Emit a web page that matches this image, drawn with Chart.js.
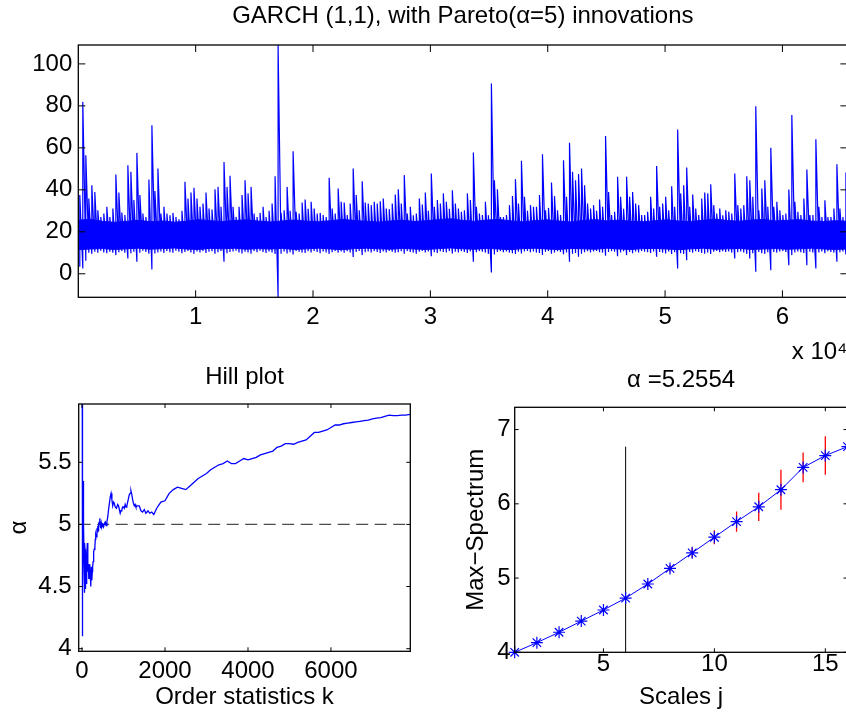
<!DOCTYPE html>
<html><head><meta charset="utf-8">
<script src="https://cdn.jsdelivr.net/npm/chart.js@4"></script>
<style>
html,body{margin:0;padding:0;background:#fff;overflow:hidden;width:846px;height:712px;}
canvas{position:absolute;left:0;top:0;}
</style></head><body>
<canvas id="c1" width="900" height="380"></canvas>
<canvas id="c2" width="900" height="712"></canvas>
<canvas id="c3" width="900" height="712"></canvas>
<script>
// ---------- Top panel: GARCH(1,1) series, per-bin (256 samples) max / min ----------
const garchBinSize = 256;
const garchHi = [
37.5,81.9,56.5,35.9,42.2,39,30.3,27,28.7,31.9,27,31.1,47.3,38.7,29.2,28,
51.7,48.6,35.1,57.6,37.5,28.7,27,44.9,70.8,39.4,50.2,28.7,31.9,28.7,27.9,29,
27,26,30,43.8,35.9,38.7,41,35.9,31.9,33.5,38.7,31.1,30.6,40.3,41.4,31.9,
53.3,41.4,46.7,31.9,27.1,31.9,37.5,44.6,38.3,41.4,28.7,27,29,31.9,27,30,
33.5,46.5,109,29,30.3,41.4,30,58.4,29.5,28.7,34,35.4,31,34.3,31.1,28.7,
29,28,27,45.7,31.1,28.7,40.6,34.3,34,28,33.5,50.2,37.5,30.3,44.1,34,
33.5,32.7,34.3,33.5,34.6,35.9,31.1,30.8,33.5,37.8,40.3,33.5,47,28.7,31.9,27.9,
28.7,35.9,33,38.7,30,47.8,31.9,35.1,33.5,38.3,34.3,31,39.8,33.5,31.1,29.5,
30.3,38.3,35.1,57.8,31.9,28.7,28,34.3,27.9,90.6,44.6,40.3,27,27,28,32.7,
37.1,45.1,33.5,53.8,36.7,30,32.7,31.9,31.9,37.5,57,30.3,31.4,43.5,37,30.3,
28,54.1,36.7,62.4,48.6,44.6,47.5,50.2,42.2,33.5,31.1,32.7,30,35.4,31.9,65.6,
39,28,29.5,46.2,36.7,31,46.2,36.7,39,33.5,32.7,28,28,29.5,36.7,31.1,
51.4,31.9,33.5,36.7,30.3,41.7,31.9,68.7,38.3,42.2,50.6,31.9,37.8,31.1,28,35.9,
38.7,38.3,42.7,32.7,28.7,31.1,27.9,30.3,29.5,28.7,47.8,32.7,31.1,32.7,46.5,44.6,
36.7,79.8,30.3,40.6,44.6,31.9,60,31.9,34.3,30.3,28,28.7,40.2,75.6,34.3,29.5,
28,35.9,49.7,28,28,64.1,31.9,27,35,27,27,31.1,52.2,31.1,27,48.3];
const garchLo = [
3.3,2.5,6.2,10,9.5,10.5,10,11,10.2,9.8,10.5,10,8.9,10.3,10.8,10,
7.3,9.8,10.5,5.7,10,11,10.4,9.6,2.1,9.7,10.2,10.6,9.9,10.8,10.3,10,
11,10.5,9.8,10.4,10.9,10.1,9.5,10.6,10.2,10.8,9.9,10.5,10.7,9.6,10.3,10.9,
5.7,9.8,10.4,10.6,11,10.2,9.7,10.5,10.1,9.6,10.8,10.3,11,10.4,9.9,10.6,
10.2,9.4,-11.2,9.5,10.6,9.7,10.3,9.2,10.8,10.5,10.1,9.9,10.7,10.2,10.9,10.4,
9.8,10.6,10.2,9.5,10.3,10.8,10.1,10.6,10,10.7,10.2,8,10.4,10.9,8.9,10.3,
10.6,10.1,10.8,10.4,9.9,10.6,10.2,10.9,10.5,10,10.3,10.7,9.6,10.8,10.4,10.1,
9.6,10.5,10.9,10.2,10.6,8.4,10.3,9.9,10.7,10.4,10.1,10.8,9.7,10.5,10.2,10.8,
10.4,9.9,10.6,5.7,10.3,10.8,10.5,10.1,9.5,0.6,9.2,10.4,10.8,10.3,10.6,10.1,
9.8,9.4,10.5,9.7,10.6,10.9,10.3,10.6,10.1,9.9,9,10.5,10.8,9.6,10.2,10.7,
10.4,9.3,10.1,5.7,9.5,9.9,8.1,9.6,10.3,10.7,10.2,10.6,10.9,10.3,10.1,8.6,
10.4,10.8,10.5,8.4,10.2,10.7,8.9,10.4,9.8,10.6,10.2,10.9,10.5,10.3,9.9,10.6,
8.1,10.4,10.1,9.7,10.6,9.4,10.3,2.5,9.8,9.5,6.5,10.4,10.1,10.7,10.4,9.9,
9.6,10.2,9.4,10.5,10.9,10.3,10.7,10.4,10.6,10.1,7.3,10.3,10.6,10.2,9.5,7.3,
9.8,1,10.4,9.8,9.5,10.3,1.7,10.4,10.1,10.6,10.9,10.4,4.1,8.9,10.2,10.6,
10.3,9.9,4.1,10.5,10.2,2.5,10.1,10.6,9.8,10.7,10.4,10.1,5.7,10.3,10.6,9.2];
// dense core of the series (where nearly every sample lies), read per block of 1024 samples
const garchCoreBlock = 1024;
const garchCoreHi = [
25.5,26,25,24.5,25,25.5,24.8,25.2,24.6,25,25.8,25.3,24.9,25.4,25.7,25.1,
24.7,25.2,25.6,25,24.8,25.3,25.9,25.4,25,24.6,25.2,25.5,24.9,25.3,25.8,26.2,
25.4,25,25.6,25.9,25.2,24.8,25.3,25.7,25.1,24.7,25.4,25.8,25.2,25.6,25,24.8,
25.3,25.7,25.1,24.9,25.5,26,25.4,25,25.6,25.9,25.2,25.5,25.8,25.1,24.9,25.3,25];
const garchCoreLo = [
11.5,11.8,12,11.6,11.9,12.2,11.7,12,12.3,11.8,11.6,12.1,11.9,12.2,11.7,12,
11.8,12.1,11.6,11.9,12.2,11.8,11.5,12,12.2,11.9,11.7,12.1,11.8,11.6,12,12.3,
11.9,11.7,12.1,11.8,11.5,12,12.2,11.8,11.6,12.1,11.9,11.7,12.2,11.8,11.6,12,
12.1,11.8,11.5,11.9,12.2,11.7,11.9,12.1,11.6,11.8,12,11.7,11.9,12.2,11.8,11.6,11.8];
const garchXTicks = [10000, 20000, 30000, 40000, 50000, 60000];
const garchYTicks = [0, 20, 40, 60, 80, 100];
const garchXRange = [1, 65536];
const garchYRange = [-11.2, 109];

// ---------- Bottom-left: Hill plot ----------
const hillK = [1,4,8,12,16,20,24,28,32,36,40,44,48,52,56,60,64,68,72,76,80,85,90,95,100,106,112,120,128,136,144,152,160,168,176,184,192,200,208,216,224,232,240,248,256,268,280,295,310,320,330,345,360,370,380,390,400,415,430,440,450,465,480,500,520,540,560,580,600,620,640,660,680,700,720,740,760,780,800,830,860,880,900,920,940,960,980,1000,1020,1040,1060,1080,1100,1120,1140,1160,1180,1200,1220,1240,1260,1280,1300,1340,1380,1420,1460,1500,1540,1590,1630,1680,1730,1800,1900,2000,2100,2200,2300,2400,2500,2600,2700,2800,2900,3000,3100,3200,3300,3400,3500,3600,3700,3800,3900,4000,4100,4200,4300,4400,4500,4600,4700,4800,4900,5000,5100,5200,5300,5400,5500,5600,5700,5800,5900,6000,6100,6200,6300,6400,6500,6600,6700,6800,6900,7000,7100,7200,7300,7400,7500,7600,7700,7800,7910];
const hillAlpha = [7.5,6.4,5.1,4.35,4.1,4.5,4.85,5.05,4.8,5.2,5.35,5.0,4.75,4.55,4.45,4.6,4.7,4.85,4.8,4.6,4.7,4.55,4.48,4.62,4.58,4.52,4.62,4.72,4.85,4.7,4.62,4.68,4.56,4.64,4.68,4.6,4.56,4.6,4.5,4.58,4.66,4.6,4.55,4.62,4.66,4.7,4.78,4.8,4.82,4.88,4.92,4.9,4.97,4.94,4.99,4.95,5.0,5.02,5.05,4.99,4.97,5.01,4.98,5.0,4.98,5.01,5.02,4.99,5.02,5.06,5.12,5.17,5.22,5.25,5.2,5.15,5.18,5.17,5.14,5.13,5.16,5.15,5.12,5.09,5.11,5.12,5.14,5.14,5.13,5.16,5.14,5.15,5.18,5.21,5.24,5.25,5.27,5.24,5.2,5.17,5.15,5.16,5.14,5.15,5.15,5.11,5.1,5.12,5.09,5.11,5.09,5.1,5.08,5.13,5.18,5.19,5.25,5.28,5.3,5.29,5.28,5.31,5.34,5.37,5.39,5.41,5.44,5.46,5.48,5.49,5.51,5.49,5.49,5.51,5.53,5.52,5.53,5.54,5.56,5.57,5.58,5.59,5.62,5.63,5.65,5.65,5.645,5.66,5.67,5.68,5.71,5.74,5.74,5.75,5.76,5.78,5.8,5.8,5.81,5.815,5.82,5.825,5.83,5.835,5.84,5.85,5.855,5.86,5.87,5.88,5.875,5.875,5.88,5.88,5.885];
const hillTrueAlpha = 5;
const hillXTicks = [0, 2000, 4000, 6000];
const hillYTicks = [4, 4.5, 5, 5.5];
const hillXRange = [-80, 7912];
const hillYRange = [3.979, 5.969];

// ---------- Bottom-right: Max-spectrum ----------
const specJ = [1,2,3,4,5,6,7,8,9,10,11,12,13,14,15,16];
const specY = [4.00,4.13,4.27,4.42,4.57,4.73,4.92,5.13,5.34,5.55,5.76,5.96,6.19,6.49,6.65,6.77];
const specErr = [0,0.004,0.006,0.008,0.018,0.015,0.036,0.045,0.068,0.095,0.135,0.19,0.27,0.20,0.26,0.30];
const specCut = 6;
const specAlphaText = '5.2554';
const specXTicks = [5, 10, 15];
const specYTicks = [4, 5, 6, 7];
const specXRange = [1, 16];
const specYRange = [4, 7.3];

// ---------- helpers ----------
Chart.defaults.font.family = '"Liberation Sans", Arial, Helvetica, sans-serif';
Chart.defaults.font.size = 24;
Chart.defaults.color = '#000';

const matlabBox = {
  id: 'matlabBox',
  afterDraw(chart, args, opts) {
    const {ctx, chartArea: a, scales} = chart;
    const L = opts.tickLen || 5;
    ctx.save();
    ctx.strokeStyle = '#000';
    ctx.lineWidth = 1;
    ctx.beginPath();
    scales.x.ticks.forEach(t => {
      const p = scales.x.getPixelForValue(t.value);
      ctx.moveTo(p, a.bottom); ctx.lineTo(p, a.bottom - L);
      ctx.moveTo(p, a.top); ctx.lineTo(p, a.top + L);
    });
    scales.y.ticks.forEach(t => {
      const p = scales.y.getPixelForValue(t.value);
      ctx.moveTo(a.left, p); ctx.lineTo(a.left + L, p);
      ctx.moveTo(a.right, p); ctx.lineTo(a.right - L, p);
    });
    ctx.stroke();
    ctx.lineWidth = 1.3;
    ctx.strokeRect(a.left, a.top, a.right - a.left, a.bottom - a.top);
    ctx.restore();
  }
};

function axisX(range, ticks, fit, pad, fmt, title) {
  return {
    type: 'linear', min: range[0], max: range[1],
    grid: {display: false, drawTicks: false}, border: {display: false},
    afterBuildTicks: s => { s.ticks = ticks.map(v => ({value: v})); },
    afterFit: s => { s.height = fit; },
    ticks: {padding: pad, autoSkip: false, maxRotation: 0, minRotation: 0, callback: fmt},
    title: title
  };
}
function axisY(range, ticks, fit, pad, fmt, title) {
  return {
    type: 'linear', min: range[0], max: range[1],
    grid: {display: false, drawTicks: false}, border: {display: false},
    afterBuildTicks: s => { s.ticks = ticks.map(v => ({value: v})); },
    afterFit: s => { s.width = fit; },
    ticks: {padding: pad, autoSkip: false, callback: fmt},
    title: title
  };
}
const baseOpts = {responsive: false, animation: false, events: []};

// ---------- chart 1 ----------
const garchPts = [];
garchHi.forEach((h, i) => {
  const x = garchXRange[0] + garchBinSize * i + garchBinSize / 2;
  garchPts.push({x: x, y: garchLo[i]}, {x: x, y: h});
});
const coreHiPts = garchCoreHi.map((v, i) => ({x: Math.min(garchXRange[0] + garchCoreBlock * i, garchXRange[1]), y: v}));
const coreLoPts = garchCoreLo.map((v, i) => ({x: Math.min(garchXRange[0] + garchCoreBlock * i, garchXRange[1]), y: v}));
new Chart(document.getElementById('c1'), {
  type: 'scatter',
  data: {datasets: [
    {data: garchPts, showLine: true, borderColor: '#0000ff', borderWidth: 1.2, pointRadius: 0, tension: 0, order: 0},
    {data: coreHiPts, showLine: true, borderColor: '#0000ff', borderWidth: 1, pointRadius: 0, tension: 0,
     fill: '+1', backgroundColor: '#0000ff', order: 1},
    {data: coreLoPts, showLine: true, borderColor: '#0000ff', borderWidth: 1, pointRadius: 0, tension: 0, order: 2}
  ]},
  options: Object.assign({}, baseOpts, {
    layout: {padding: {top: 0, left: 0, right: 52.6, bottom: 0}},
    plugins: {
      legend: {display: false}, tooltip: {enabled: false},
      title: {display: true, text: 'GARCH (1,1), with Pareto(α=5) innovations', fullSize: false,
              padding: {top: 2.3, bottom: 13.9}, font: {size: 24, weight: 'normal'}, color: '#000'},
      matlabBox: {tickLen: 7}
    },
    scales: {
      x: axisX(garchXRange, garchXTicks, 82.7, 5.8, v => String(v / 10000),
               {display: true, text: 'x 10\u2074', align: 'end', padding: {top: 0, bottom: 13.1}, font: {size: 24}}),
      y: axisY(garchYRange, garchYTicks, 78.3, 6, v => String(v), {display: false})
    }
  }),
  plugins: [matlabBox]
});

// ---------- chart 2 ----------
const hillPts = hillK.map((k, i) => ({x: k, y: hillAlpha[i]}));
new Chart(document.getElementById('c2'), {
  type: 'scatter',
  data: {datasets: [
    {data: hillPts, showLine: true, borderColor: '#0000ff', borderWidth: 1.3, pointRadius: 0, tension: 0, order: 0},
    {data: [{x: hillXRange[0], y: hillTrueAlpha}, {x: hillXRange[1], y: hillTrueAlpha}], showLine: true,
     borderColor: '#4d4d4d', borderWidth: 1.3, borderDash: [12, 6.5], pointRadius: 0, order: 1}
  ]},
  options: Object.assign({}, baseOpts, {
    layout: {padding: {top: 362.6, left: 0, right: 489.7, bottom: 0}},
    plugins: {
      legend: {display: false}, tooltip: {enabled: false},
      title: {display: true, text: 'Hill plot', fullSize: false, padding: {top: 0, bottom: 12.6},
              font: {size: 24, weight: 'normal'}, color: '#000'},
      matlabBox: {tickLen: 4}
    },
    scales: {
      x: axisX(hillXRange, hillXTicks, 60.7, 6, v => String(v),
               {display: true, text: 'Order statistics k', padding: {top: 0, bottom: 0.6}, font: {size: 24}}),
      y: axisY(hillYRange, hillYTicks, 78.7, 7, v => String(v),
               {display: true, text: 'α', padding: {top: 4.6, bottom: 0}, font: {size: 24}})
    }
  }),
  plugins: [matlabBox]
});

// ---------- chart 3 ----------
const specPts = specJ.map((j, i) => ({x: j, y: specY[i]}));
const errPts = [];
specJ.forEach((j, i) => {
  errPts.push({x: j, y: specY[i] - specErr[i]}, {x: j, y: specY[i] + specErr[i]}, {x: j, y: null});
});
new Chart(document.getElementById('c3'), {
  type: 'scatter',
  data: {datasets: [
    {data: specPts, showLine: true, borderColor: '#0000ff', borderWidth: 1, pointStyle: 'star', pointRadius: 6,
     pointBorderColor: '#0000ff', pointBackgroundColor: '#0000ff', pointBorderWidth: 1.2, tension: 0, clip: false, order: 0},
    {data: errPts, showLine: true, borderColor: '#ff0000', borderWidth: 1.3, pointRadius: 0, spanGaps: false, order: 1},
    {data: [{x: specCut, y: specYRange[0]}, {x: specCut, y: Math.max.apply(null, specY)}], showLine: true,
     borderColor: '#000', borderWidth: 1, pointRadius: 0, order: 2}
  ]},
  options: Object.assign({}, baseOpts, {
    layout: {padding: {top: 366.1, left: 440, right: 52.5, bottom: 0}},
    plugins: {
      legend: {display: false}, tooltip: {enabled: false},
      title: {display: true, text: 'α =' + specAlphaText, fullSize: false, padding: {top: 0, bottom: 12.4},
              font: {size: 24, weight: 'normal'}, color: '#000'},
      matlabBox: {tickLen: 4}
    },
    scales: {
      x: axisX(specXRange, specXTicks, 59.7, -2.2, v => String(v),
               {display: true, text: 'Scales j', padding: {top: 0, bottom: 0}, font: {size: 24}}),
      y: axisY(specYRange, specYTicks, 74.7, 4, v => String(v),
               {display: true, text: 'Max\u2212Spectrum', padding: {top: 21.6, bottom: 0}, font: {size: 24}})
    }
  }),
  plugins: [matlabBox]
});
</script></body></html>
